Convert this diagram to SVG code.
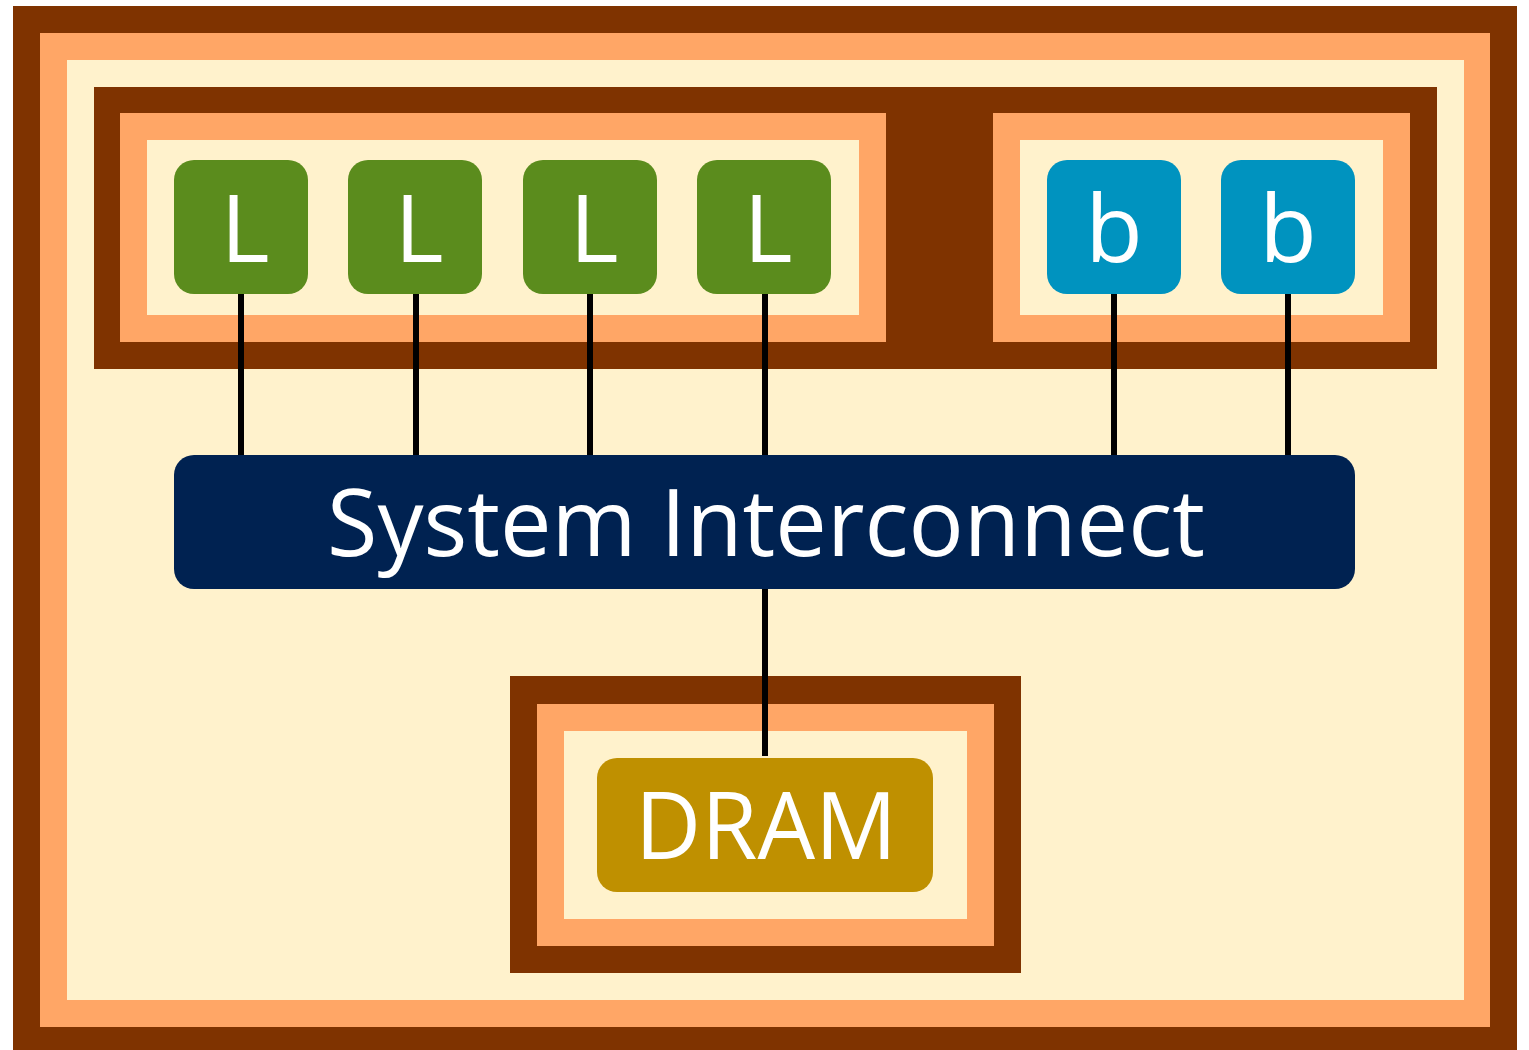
<svg xmlns="http://www.w3.org/2000/svg" width="1529" height="1050" viewBox="0 0 1529 1050">
  <style>
    .brown { fill: #7F3300; }
    .peach { fill: #FFA666; }
    .cream { fill: #FFF2CC; }
    .core-l { fill: #5B8C1D; }
    .core-b { fill: #0093BF; }
    .bus { fill: #002251; }
    .mem { fill: #BF9000; }
    .label { fill: #FFFFFF; font-family: "Open Sans", "Noto Sans", "DejaVu Sans", sans-serif; font-size: 94px; text-anchor: middle; }
    .wire { stroke: #000000; stroke-width: 6; fill: none; }
  </style>
  <rect width="1529" height="1050" fill="#FFFFFF"/>

  <!-- chip boundary: three nested bands -->
  <g id="chip">
    <rect class="brown" x="13" y="6" width="1504" height="1048"/>
    <rect class="peach" x="40" y="33" width="1450" height="994"/>
    <rect class="cream" x="67" y="60" width="1397" height="940"/>
  </g>

  <!-- CPU complex frame -->
  <g id="cpu-complex">
    <rect class="brown" x="94" y="87" width="1343" height="282"/>
  </g>
  <g id="little-cluster">
    <rect class="peach" x="120" y="113" width="766" height="229"/>
    <rect class="cream" x="147" y="140" width="712" height="175"/>
  </g>
  <g id="big-cluster">
    <rect class="peach" x="993" y="113" width="417" height="229"/>
    <rect class="cream" x="1020" y="140" width="363" height="175"/>
  </g>

  <!-- memory frame -->
  <g id="memory-frame">
    <rect class="brown" x="510" y="676" width="511" height="297"/>
    <rect class="peach" x="537" y="704" width="457" height="242"/>
    <rect class="cream" x="564" y="731" width="403" height="188"/>
  </g>

  <!-- connectors -->
  <g id="connectors">
    <line class="wire" x1="241" y1="294" x2="241" y2="456"/>
    <line class="wire" x1="416" y1="294" x2="416" y2="456"/>
    <line class="wire" x1="590" y1="294" x2="590" y2="456"/>
    <line class="wire" x1="765" y1="294" x2="765" y2="456"/>
    <line class="wire" x1="1114" y1="294" x2="1114" y2="456"/>
    <line class="wire" x1="1288" y1="294" x2="1288" y2="456"/>
    <line class="wire" x1="765" y1="588" x2="765" y2="756"/>
  </g>

  <!-- little cores -->
  <g id="core-l1">
    <rect class="core-l" x="174" y="160" width="134" height="134" rx="20"/>
    <text class="label" x="245" y="262">L</text>
  </g>
  <g id="core-l2">
    <rect class="core-l" x="348" y="160" width="134" height="134" rx="20"/>
    <text class="label" x="419" y="262">L</text>
  </g>
  <g id="core-l3">
    <rect class="core-l" x="523" y="160" width="134" height="134" rx="20"/>
    <text class="label" x="594" y="262">L</text>
  </g>
  <g id="core-l4">
    <rect class="core-l" x="697" y="160" width="134" height="134" rx="20"/>
    <text class="label" x="768" y="262">L</text>
  </g>

  <!-- big cores -->
  <g id="core-b1">
    <rect class="core-b" x="1047" y="160" width="134" height="134" rx="20"/>
    <text class="label" x="1114" y="262">b</text>
  </g>
  <g id="core-b2">
    <rect class="core-b" x="1221" y="160" width="134" height="134" rx="20"/>
    <text class="label" x="1288" y="262">b</text>
  </g>

  <!-- interconnect -->
  <g id="interconnect">
    <rect class="bus" x="174" y="455" width="1181" height="134" rx="20"/>
    <text class="label" x="766" y="556" textLength="878" lengthAdjust="spacingAndGlyphs">System Interconnect</text>
  </g>

  <!-- memory -->
  <g id="dram">
    <rect class="mem" x="597" y="758" width="336" height="134" rx="20"/>
    <text class="label" x="766" y="859" textLength="262" lengthAdjust="spacingAndGlyphs">DRAM</text>
  </g>
</svg>
